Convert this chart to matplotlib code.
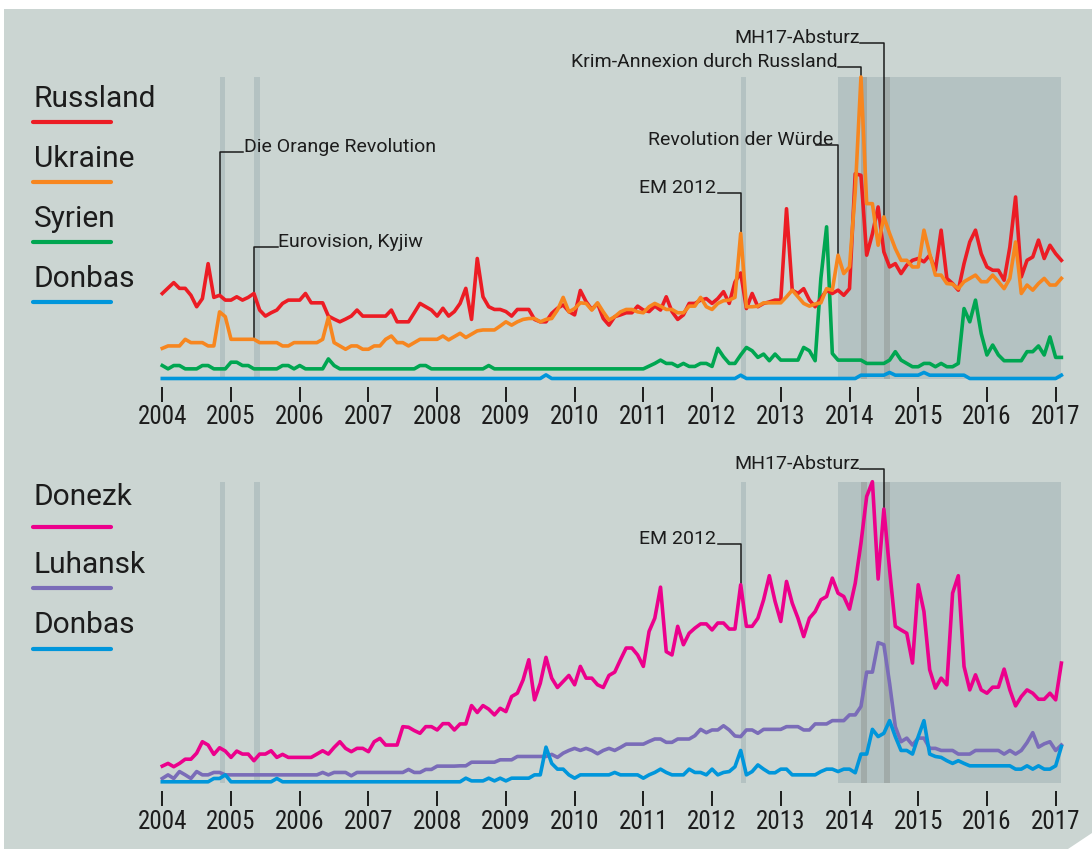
"""Suchinteresse Russland/Ukraine/Syrien/Donbas, 2004-2017, zwei Panels."""

import numpy as np
import matplotlib.pyplot as plt
from matplotlib import font_manager
from matplotlib.font_manager import FontProperties
from matplotlib.lines import Line2D
from matplotlib.patches import Rectangle, Polygon

# ---- data: one value per month, Jan 2004 .. Feb 2017 (one row = one year)
russland = [
    28.2, 30, 31.8, 29.9, 29.9, 27.6, 23.8, 26.5, 38.1, 26.9, 27.6, 26,
    26, 27.1, 26, 26.9, 28.2, 22.7, 20.7, 21.8, 22.7, 24.9, 26, 26,
    26, 28.2, 25.1, 25.1, 25.1, 20.7, 19.7, 18.8, 19.7, 20.7, 22.7, 20.7,
    20.7, 20.7, 20.7, 20.7, 22.7, 18.8, 18.8, 18.8, 21.8, 24.9, 23.8, 22.7,
    20.7, 23.3, 20.7, 22.2, 24.9, 29.9, 19.6, 39.8, 27.1, 23.8, 22.9, 22.9,
    22.2, 20.7, 22.9, 22.9, 22.9, 19.6, 18.8, 18.8, 21.6, 23.3, 24.4, 22.2,
    21.1, 29.2, 25.5, 22.9, 24.9, 19.9, 17.7, 20.5, 21.1, 21.8, 21.8, 24,
    22.7, 22.2, 24, 22.7, 27.1, 22.2, 19.6, 21.1, 24.9, 24.9, 26, 26.5,
    24.9, 26.5, 28.8, 24.9, 32, 35, 23.2, 28.2, 23.8, 24.9, 25.4, 26,
    26, 56.3, 29.3, 28.2, 29.8, 26, 23.8, 26.5, 29.3, 28.2, 29.3, 27.6,
    29.8, 67.9, 67.4, 40.9, 48, 56.9, 42, 37, 38.1, 34.8, 37.6, 39.2,
    39.8, 38.7, 40.9, 35.9, 49.2, 33.2, 31.5, 29.3, 38.1, 45.3, 49.2, 41.4,
    37, 35.9, 35.9, 32.6, 43.6, 60.2, 33.7, 39.2, 40.3, 45.9, 39.8, 44.2,
    41.4, 39.2,
]
ukraine = [
    10.0, 10.8, 10.8, 10.8, 13.0, 11.9, 11.9, 11.9, 10.8, 10.8, 22.1, 20.5,
    13.0, 13.0, 13.0, 13.0, 13.0, 11.9, 11.9, 11.9, 11.9, 10.8, 10.8, 11.9,
    11.9, 11.9, 11.9, 11.9, 13.0, 20.3, 11.9, 10.8, 9.7, 10.8, 10.8, 9.7,
    9.7, 10.8, 10.8, 13.0, 14.1, 11.9, 11.9, 10.8, 11.9, 13.0, 13.0, 13.0,
    13.0, 14.1, 12.8, 13.9, 15.0, 13.6, 14.7, 15.8, 16.1, 16.1, 16.1, 17.4,
    18.8, 17.7, 18.8, 19.6, 19.9, 19.9, 18.8, 19.6, 19.9, 22.7, 26.9, 22.1,
    23.2, 25.1, 24.9, 22.7, 25.1, 22.1, 19.4, 20.5, 22.1, 22.9, 22.9, 22.1,
    21.8, 23.8, 24.9, 24.0, 22.9, 22.9, 21.8, 21.8, 24.0, 24.0, 26.9, 23.8,
    22.9, 24.9, 25.8, 26.0, 26.9, 48.1, 23.8, 23.8, 24.0, 25.1, 25.1, 25.1,
    25.1, 27.1, 29.3, 27.1, 24.9, 24.0, 24.7, 25.1, 29.8, 29.3, 40.9, 34.8,
    37.0, 61.9, 100, 58.0, 58.0, 44.2, 53.6, 48.1, 43.1, 39.2, 39.2, 37.0,
    37.0, 49.2, 41.4, 34.3, 34.3, 31.5, 31.3, 29.8, 32.1, 33.2, 34.3, 32.1,
    32.1, 34.3, 32.1, 29.8, 33.2, 45.3, 28.2, 31.0, 29.3, 31.5, 33.2, 31.0,
    31.0, 33.2,
]
syrien = [
    4.3, 3.2, 4.3, 4.3, 3.2, 3.2, 3.2, 4.3, 4.3, 3.2, 3.2, 3.2,
    5.4, 5.4, 4.3, 4.3, 3.2, 3.2, 3.2, 3.2, 3.2, 4.3, 4.3, 3.2,
    4.3, 3.2, 3.2, 3.2, 3.2, 6.5, 4.3, 3.2, 3.2, 3.2, 3.2, 3.2,
    3.2, 3.2, 3.2, 3.2, 3.2, 3.2, 3.2, 3.2, 3.2, 4.3, 4.3, 3.2,
    3.2, 3.2, 3.2, 3.2, 3.2, 3.2, 3.2, 3.2, 3.2, 4.3, 3.2, 3.2,
    3.2, 3.2, 3.2, 3.2, 3.2, 3.2, 3.2, 3.2, 3.2, 3.2, 3.2, 3.2,
    3.2, 3.2, 3.2, 3.2, 3.2, 3.2, 3.2, 3.2, 3.2, 3.2, 3.2, 3.2,
    3.2, 4.1, 5.0, 6.1, 5.0, 5.0, 4.0, 5.0, 4.0, 4.0, 5.0, 5.0,
    4.0, 10.0, 7.2, 5.0, 5.0, 7.8, 10.3, 9.2, 7.0, 8.1, 5.9, 8.1,
    6.1, 6.1, 6.1, 6.1, 10.3, 9.2, 5.9, 33.2, 50.3, 8.3, 6.1, 6.1,
    6.1, 6.1, 6.1, 5.0, 5.0, 5.0, 5.0, 6.1, 8.9, 6.1, 5.0, 3.9,
    3.9, 5.0, 5.0, 3.9, 5.0, 3.9, 3.9, 5.0, 23.2, 18.8, 26.0, 14.9,
    7.8, 11.1, 7.8, 5.9, 5.9, 5.9, 5.9, 8.9, 8.9, 10.8, 7.8, 13.8,
    7.0, 7.0,
]
donbas_top = [
    0, 0, 0, 0, 0, 0, 0, 0, 0, 0, 0, 0,
    0, 0, 0, 0, 0, 0, 0, 0, 0, 0, 0, 0,
    0, 0, 0, 0, 0, 0, 0, 0, 0, 0, 0, 0,
    0, 0, 0, 0, 0, 0, 0, 0, 0, 0, 0, 0,
    0, 0, 0, 0, 0, 0, 0, 0, 0, 0, 0, 0,
    0, 0, 0, 0, 0, 0, 0, 1.2, 0, 0, 0, 0,
    0, 0, 0, 0, 0, 0, 0, 0, 0, 0, 0, 0,
    0, 0, 0, 0, 0, 0, 0, 0, 0, 0, 0, 0,
    0, 0, 0, 0, 0, 1.1, 0, 0, 0, 0, 0, 0,
    0, 0, 0, 0, 0, 0, 0, 0, 0, 0, 0, 0,
    0, 0, 1.1, 1.1, 1.1, 1.1, 1.1, 2.0, 1.1, 1.1, 1.1, 1.1,
    1.1, 2.0, 1.1, 1.1, 1.1, 1.1, 1.1, 1.1, 1.1, 0, 0, 0,
    0, 0, 0, 0, 0, 0, 0, 0, 0, 0, 0, 0,
    0, 1.1,
]
donezk = [
    5.6, 6.5, 5.4, 6.5, 7.9, 7.9, 9.9, 13.7, 12.6, 9.5, 11.7, 10.6,
    8.5, 10.6, 9.6, 9.6, 7.4, 9.6, 9.6, 10.7, 8.5, 9.5, 8.5, 8.5,
    8.5, 8.5, 8.5, 9.6, 10.7, 9.6, 11.8, 13.7, 11.5, 10.4, 11.5, 11.5,
    10.4, 13.7, 14.8, 12.6, 12.6, 12.6, 18.7, 18.5, 17.4, 16.5, 18.7, 18.7,
    17.6, 19.7, 19.7, 17.6, 19.6, 19.6, 25.7, 23.4, 25.7, 24.5, 22.6, 24.8,
    23.7, 28.7, 29.8, 34.2, 40.9, 27.6, 33.1, 41.7, 34.8, 31.7, 33.7, 35.7,
    32.6, 38.7, 34.8, 34.8, 32.6, 31.7, 35.7, 36.8, 40.9, 44.8, 44.8, 42.5,
    38.7, 50.3, 54.7, 65.0, 43.6, 42.5, 52.0, 45.9, 49.7, 51.4, 52.8, 52.8,
    50.8, 53.1, 53.1, 51.1, 51.1, 65.8, 52.0, 52.0, 54.7, 60.8, 68.8, 60.3,
    53.6, 66.9, 59.7, 54.7, 48.6, 54.7, 56.9, 60.8, 61.9, 68.0, 63.0, 61.9,
    57.7, 66.3, 79.6, 95.1, 100, 67.7, 90.9, 70.8, 52.0, 50.8, 49.7, 39.8,
    65.8, 56.9, 37.6, 31.5, 34.8, 32.6, 63.0, 68.8, 38.7, 30.9, 35.9, 30.9,
    29.8, 31.8, 31.8, 37.8, 30.9, 25.6, 28.7, 30.9, 29.8, 27.8, 27.8, 29.8,
    27.6, 39.8,
]
luhansk = [
    1.5, 2.7, 1.5, 3.8, 2.7, 1.5, 3.8, 2.7, 2.7, 3.5, 3.5, 2.7,
    2.7, 2.7, 2.7, 2.7, 2.7, 2.7, 2.7, 2.7, 2.7, 2.7, 2.7, 2.7,
    2.7, 2.7, 2.7, 2.7, 3.5, 2.7, 3.5, 3.5, 3.5, 2.4, 3.5, 3.5,
    3.5, 3.5, 3.5, 3.5, 3.5, 3.5, 3.5, 4.5, 3.5, 3.5, 4.5, 4.5,
    5.6, 5.6, 5.6, 5.6, 5.7, 5.7, 6.9, 6.9, 6.9, 6.9, 6.9, 7.7,
    7.7, 7.7, 8.8, 8.8, 8.8, 8.8, 8.8, 8.8, 9.5, 8.5, 9.9, 10.8,
    11.5, 10.8, 11.5, 10.8, 9.7, 10.8, 11.5, 10.8, 11.8, 12.9, 12.9, 12.9,
    12.9, 13.8, 14.6, 14.6, 13.5, 13.5, 14.6, 14.6, 14.6, 15.7, 17.8, 16.7,
    17.6, 17.6, 19.0, 17.6, 15.6, 15.4, 17.6, 17.6, 16.5, 17.8, 17.8, 17.8,
    17.8, 18.7, 18.7, 18.7, 17.6, 17.6, 19.6, 19.6, 19.6, 20.7, 20.7, 20.7,
    22.6, 22.6, 25.4, 36.8, 36.8, 46.6, 45.9, 33.1, 18.7, 13.7, 14.9, 12.6,
    14.9, 14.9, 11.5, 11.5, 10.8, 10.8, 10.8, 9.6, 9.6, 9.6, 10.8, 10.8,
    10.8, 10.8, 10.8, 9.6, 10.8, 9.6, 10.8, 13.4, 16.7, 11.9, 13.0, 13.7,
    10.8, 12.6,
]
donbas_bot = [
    0.4, 0.4, 0.4, 0.4, 0.4, 0.4, 0.4, 0.4, 0.4, 1.5, 1.5, 2.7,
    0.4, 0.4, 0.4, 0.4, 0.4, 0.4, 0.4, 0.4, 1.5, 0.4, 0.4, 0.4,
    0.4, 0.4, 0.4, 0.4, 0.4, 0.4, 0.4, 0.4, 0.4, 0.4, 0.4, 0.4,
    0.4, 0.4, 0.4, 0.4, 0.4, 0.4, 0.4, 0.4, 0.4, 0.4, 0.4, 0.4,
    0.4, 0.4, 0.4, 0.4, 0.4, 1.6, 0.7, 0.7, 0.7, 1.6, 0.7, 1.6,
    0.7, 1.6, 1.6, 1.6, 1.6, 2.7, 2.7, 11.9, 6.5, 4.6, 4.6, 2.7,
    1.6, 2.7, 2.7, 2.7, 2.7, 2.7, 2.7, 3.5, 2.7, 2.7, 2.7, 2.7,
    1.6, 2.7, 3.5, 4.6, 3.5, 2.7, 2.7, 2.7, 4.6, 3.5, 3.5, 2.7,
    4.6, 2.7, 3.5, 3.8, 5.4, 10.8, 2.7, 3.8, 6.0, 4.6, 3.4, 3.4,
    4.6, 4.6, 2.7, 2.7, 2.7, 2.7, 2.7, 3.8, 4.6, 4.6, 3.8, 4.6,
    4.6, 3.4, 9.6, 9.6, 17.8, 15.4, 16.5, 20.7, 15.4, 10.8, 10.8, 9.6,
    15.4, 20.7, 9.6, 8.8, 8.5, 7.4, 6.5, 7.4, 6.5, 5.7, 5.7, 5.7,
    5.7, 5.7, 5.7, 5.7, 5.7, 4.6, 4.6, 5.7, 4.6, 5.7, 4.6, 4.6,
    5.7, 12.1,
]

years = list(range(2004, 2018))
event_months = [10, 16, 101]      # Orange Revolution, Eurovision Kyjiw, EM 2012
stripe_months = [122, 126]        # Krim, MH17
conflict_start = 118              # Revolution der Würde (Nov 2013)

# ---- look
W, H = 1092, 849
BG = '#cbd5d2'
BAND = '#b4c2c2'
STRIPE = '#a1aba9'
INK = '#1c1c1c'
RED, ORANGE, GREEN, BLUE = '#ec1c24', '#f7861f', '#00a651', '#0096db'
MAGENTA, PURPLE = '#ec008c', '#7a6cb8'
TEXT_FONT = 'Roboto'


def narrow_font():
    # the year labels are set in a narrow face; take one if installed
    prefs = ['Roboto Condensed', 'Liberation Sans Narrow', 'DejaVu Sans',
             'Noto Sans', 'Open Sans']
    found = [f for f in font_manager.fontManager.ttflist
             if f.style == 'normal' and f.weight in (400, 'normal', 'regular')
             and ('Narrow' in f.name or 'Condensed' in f.name
                  or f.stretch in ('condensed', 'semi-condensed'))]
    for p in prefs:
        for f in found:
            if f.name.startswith(p):
                return FontProperties(fname=f.fname, size=18)
    if found:
        return FontProperties(fname=found[0].fname, size=18)
    return FontProperties(family=TEXT_FONT, size=15.5)


tick_fp = narrow_font()

n = len(russland)
x = 2004 + np.arange(n) / 12


def xm(m):
    return 2004 + m / 12


def yr(px):
    # pixel column -> year, 2004 at 162.3 px, 68.72 px per year
    return 2004 + (px - 162.3) / 68.72


def fx(px):
    return px / W


def fy(py):
    return 1 - py / H


fig = plt.figure(figsize=(W / 100, H / 100), dpi=100, facecolor='white')
fig.patches.append(Rectangle((fx(4), 0), 1, fy(9), transform=fig.transFigure,
                             facecolor=BG, edgecolor='none', zorder=-10))
fig.patches.append(Polygon([(fx(1068), 0), (1, 0), (1, fy(833))], closed=True,
                           transform=fig.transFigure, facecolor='white',
                           edgecolor='none', zorder=-9))

ax_w = (n - 1) / 12 * 68.72 / W
ax_top = fig.add_axes([fx(162.3), fy(378.5), ax_w, 301.5 / H])
ax_bot = fig.add_axes([fx(162.3), fy(783), ax_w, 301.3 / H])


def style(ax):
    ax.set_xlim(2004, xm(n - 1))
    ax.set_ylim(0, 100)
    ax.patch.set_alpha(0)
    for s in ax.spines.values():
        s.set_visible(False)
    ax.spines['bottom'].set_position(('outward', 6))
    ax.set_yticks([])
    ax.set_xticks(years)
    ax.set_xticklabels([str(y) for y in years])
    for lab in ax.get_xticklabels():
        lab.set_fontproperties(tick_fp)
    ax.tick_params(axis='x', length=10.8, width=1.4, pad=2.5,
                   color=INK, labelcolor=INK)
    for m in event_months:
        ax.axvspan(xm(m), xm(m + 1), color=BAND, lw=0, zorder=0)
    ax.axvspan(xm(conflict_start), xm(n - 1), color=BAND, lw=0, zorder=0)
    for m in stripe_months:
        ax.axvspan(xm(m), xm(m + 1), color=STRIPE, lw=0, zorder=0.5)


def series(ax, values, color):
    ax.plot(x, values, color=color, lw=2.6, solid_joinstyle='round',
            clip_on=False, zorder=3)


def callout(ax, text, m, values, level, line_px, text_px, ha):
    xe = xm(m)
    ax.plot([yr(line_px), xe, xe], [level, level, values[m]], color=INK,
            lw=1.1, clip_on=False, zorder=2.5)
    ax.text(yr(text_px), level, text, ha=ha, va='baseline', color=INK,
            family=TEXT_FONT, fontsize=14, clip_on=False)


style(ax_top)
style(ax_bot)

series(ax_top, donbas_top, BLUE)
series(ax_top, syrien, GREEN)
series(ax_top, russland, RED)
series(ax_top, ukraine, ORANGE)

series(ax_bot, luhansk, PURPLE)
series(ax_bot, donbas_bot, BLUE)
series(ax_bot, donezk, MAGENTA)

callout(ax_top, 'Die Orange Revolution', 10, russland, 75.2, 243, 243.5, 'left')
callout(ax_top, 'Eurovision, Kyjiw', 16, ukraine, 43.7, 278, 278.5, 'left')
callout(ax_top, 'EM 2012', 101, ukraine, 61.6, 718, 716, 'right')
callout(ax_top, 'Revolution der Würde', 118, ukraine, 77.4, 816, 833, 'right')
callout(ax_top, 'Krim-Annexion durch Russland', 122, ukraine, 103.4, 838, 838, 'right')
callout(ax_top, 'MH17-Absturz', 126, ukraine, 111.2, 860, 860, 'right')

callout(ax_bot, 'EM 2012', 101, donezk, 79.2, 718, 716, 'right')
callout(ax_bot, 'MH17-Absturz', 126, donezk, 104.3, 860, 860, 'right')

# legends as text plus underline
legend_top = [('Russland', RED, 107, 122), ('Ukraine', ORANGE, 167, 182),
              ('Syrien', GREEN, 227, 242), ('Donbas', BLUE, 287, 302)]
legend_bot = [('Donezk', MAGENTA, 505, 527), ('Luhansk', PURPLE, 573, 588),
              ('Donbas', BLUE, 633, 649)]
for label, color, base, line_y in legend_top + legend_bot:
    fig.text(fx(34), fy(base), label, ha='left', va='baseline', color=INK,
             family=TEXT_FONT, fontsize=21.5)
    fig.add_artist(Line2D([fx(33), fx(111)], [fy(line_y), fy(line_y)],
                          color=color, lw=3, solid_capstyle='round'))

fig.savefig('out.png', dpi=100)
